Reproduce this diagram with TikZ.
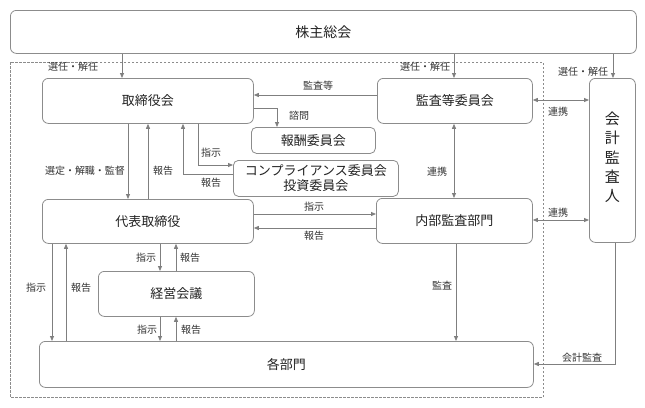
\documentclass[tikz,border=0pt]{standalone}
\usepackage{fontspec}
\newfontfamily\jp{Noto Sans CJK JP}
\usetikzlibrary{arrows.meta}
\definecolor{ln}{HTML}{7F7F7F}
\definecolor{bd}{HTML}{8C8C8C}
\definecolor{tx}{HTML}{222222}
\definecolor{lt}{HTML}{333333}
\begin{document}
\begin{tikzpicture}[x=1pt,y=-1pt,
  box/.style={draw=bd, line width=0.8pt, rounded corners=6pt, fill=white, text=tx,
    font=\jp\fontsize{13}{16}\selectfont, inner sep=0pt, anchor=north west, align=center},
  lbl/.style={font=\jp\fontsize{10}{11}\selectfont, text=lt, inner sep=0pt},
  arr/.style={draw=ln, line width=0.8pt, -{Triangle[length=5pt,width=4pt]}},
  darr/.style={draw=ln, line width=0.8pt, {Triangle[length=5pt,width=4pt]}-{Triangle[length=5pt,width=4pt]}},
  frame/.style={draw=bd, line width=0.7pt, dash pattern=on 2.5pt off 1.5pt}]
\useasboundingbox (0,0) rectangle (645,407);
% dashed frame
\draw[frame] (10,62) rectangle (543,397);
% boxes
\node[box, minimum width=626pt, minimum height=43pt, font=\jp\fontsize{14}{17}\selectfont] (sh) at (10,10) {株主総会};
\node[box, minimum width=211pt, minimum height=45pt] (tb) at (42,78) {取締役会};
\node[box, minimum width=155pt, minimum height=45pt] (ak) at (377,78) {監査等委員会};
\node[box, minimum width=46pt, minimum height=164pt, font=\jp\fontsize{15}{19.3}\selectfont] (kk) at (589,78) {会\\計\\監\\査\\人\\[-12.5pt]\mbox{}};
\node[box, minimum width=124pt, minimum height=26pt, rounded corners=5pt] (hs) at (251,127) {報酬委員会};
\node[box, minimum width=165pt, minimum height=36pt, rounded corners=5pt, font=\jp\fontsize{13}{15}\selectfont] (cp) at (233,160) {コンプライアンス委員会\\投資委員会};
\node[box, minimum width=211pt, minimum height=44pt] (dh) at (42,199) {代表取締役};
\node[box, minimum width=156pt, minimum height=45pt] (nb) at (376,198) {内部監査部門};
\node[box, minimum width=156pt, minimum height=45pt] (kei) at (98,271) {経営会議};
\node[box, minimum width=494pt, minimum height=46pt] (kb) at (39,341) {各部門};
% helper coordinates
\coordinate (x52) at (52,0);
\coordinate (x66) at (66,0);
\coordinate (x122) at (122,0);
\coordinate (x128) at (128,0);
\coordinate (x148) at (148,0);
\coordinate (x160) at (160,0);
\coordinate (x176) at (176,0);
\coordinate (x183) at (183,0);
\coordinate (x198) at (198,0);
\coordinate (x277) at (277,0);
\coordinate (x454) at (454,0);
\coordinate (x456) at (456,0);
\coordinate (x613) at (613,0);
\coordinate (x615) at (615,0);
\coordinate (y95) at (0,95);
\coordinate (y100) at (0,100);
\coordinate (y108) at (0,108);
\coordinate (y165) at (0,165);
\coordinate (y174) at (0,174);
\coordinate (y214) at (0,214);
\coordinate (y220) at (0,220);
\coordinate (y228) at (0,228);
\coordinate (y364) at (0,364);
% connectors
\draw[arr] (sh.south -| x122) -- (tb.north -| x122);
\draw[arr] (sh.south -| x454) -- (ak.north -| x454);
\draw[arr] (sh.south -| x613) -- (kk.north -| x613);
\draw[arr] (ak.west |- y95) -- (tb.east |- y95);
\draw[arr] (tb.east |- y108) -| (hs.north -| x277);
\draw[arr] (tb.south -| x128) -- (dh.north -| x128);
\draw[arr] (dh.north -| x148) -- (tb.south -| x148);
\draw[arr] (tb.south -| x198) |- (cp.west |- y165);
\draw[arr] (cp.west |- y174) -| (tb.south -| x183);
\draw[arr] (dh.east |- y214) -- (nb.west |- y214);
\draw[arr] (nb.west |- y228) -- (dh.east |- y228);
\draw[darr] (ak.south -| x454) -- (nb.north -| x454);
\draw[darr] (ak.east |- y100) -- (kk.west |- y100);
\draw[darr] (nb.east |- y220) -- (kk.west |- y220);
\draw[arr] (dh.south -| x160) -- (kei.north -| x160);
\draw[arr] (kei.north -| x176) -- (dh.south -| x176);
\draw[arr] (kei.south -| x160) -- (kb.north -| x160);
\draw[arr] (kb.north -| x176) -- (kei.south -| x176);
\draw[arr] (dh.south -| x52) -- (kb.north -| x52);
\draw[arr] (kb.north -| x66) -- (dh.south -| x66);
\draw[arr] (nb.south -| x456) -- (kb.north -| x456);
\draw[arr] (kk.south -| x615) |- (kb.east |- y364);
% labels
\node[lbl] (l1) at (73,67) {選任・解任};
\node[lbl] (l2) at (425,67) {選任・解任};
\node[lbl] (l3) at (583,72) {選任・解任};
\node[lbl] (l4) at (318,86) {監査等};
\node[lbl] (l5) at (299,116) {諮問};
\node[lbl] (l6) at (85,171) {選定・解職・監督};
\node[lbl] (l7) at (163,171) {報告};
\node[lbl] (l8) at (211,153) {指示};
\node[lbl] (l9) at (211,183) {報告};
\node[lbl] (l10) at (314,207) {指示};
\node[lbl] (l11) at (314,236) {報告};
\node[lbl] (l12) at (437,172) {連携};
\node[lbl] (l13) at (558,112) {連携};
\node[lbl] (l14) at (558,213) {連携};
\node[lbl] (l15) at (146,258) {指示};
\node[lbl] (l16) at (190,258) {報告};
\node[lbl] (l17) at (147,330) {指示};
\node[lbl] (l18) at (191,330) {報告};
\node[lbl] (l19) at (36,288) {指示};
\node[lbl] (l20) at (81,288) {報告};
\node[lbl] (l21) at (442,286) {監査};
\node[lbl] (l22) at (582,358) {会計監査};
\end{tikzpicture}
\end{document}
